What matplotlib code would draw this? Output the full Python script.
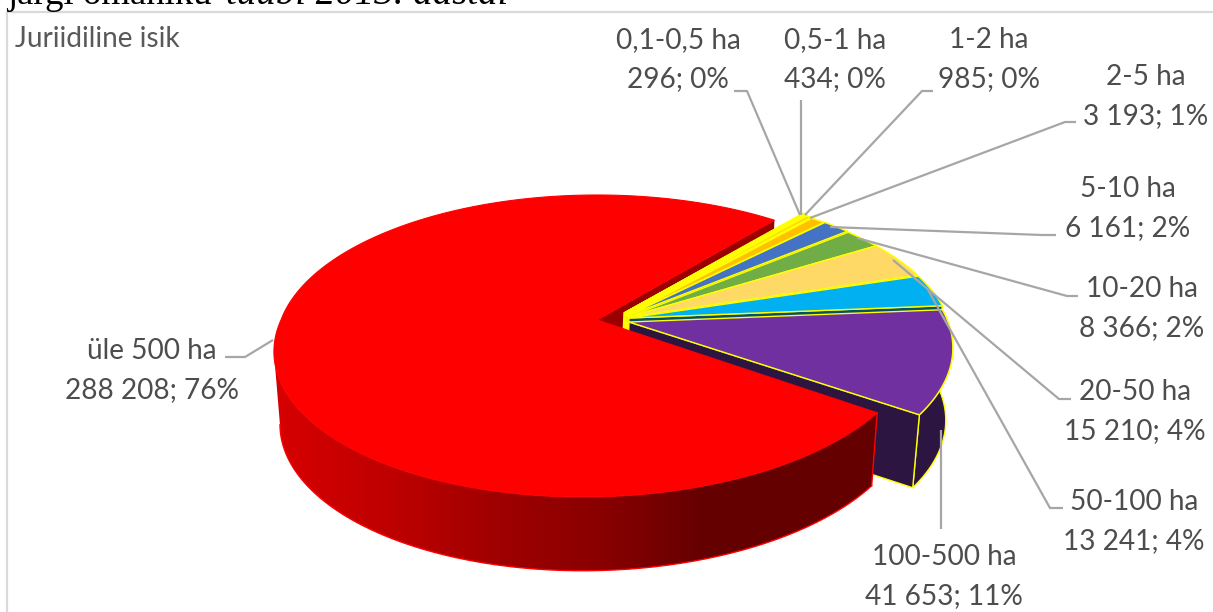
# 3D looking pie, Juriidiline isik
import numpy as np
import matplotlib.pyplot as plt
from matplotlib.colors import LinearSegmentedColormap
from matplotlib.patches import Polygon

# data
sizes = ["0,1-0,5 ha", "0,5-1 ha", "1-2 ha", "2-5 ha", "5-10 ha", "10-20 ha",
         "20-50 ha", "50-100 ha", "100-500 ha", "üle 500 ha"]
areas = [296, 434, 985, 3193, 6161, 8366, 15210, 13241, 41653, 288208]
value_labels = ["296; 0%", "434; 0%", "985; 0%", "3 193; 1%", "6 161; 2%", "8 366; 2%",
                "15 210; 4%", "13 241; 4%", "41 653; 11%", "288 208; 76%"]

# styles
top_colors = ["#FFFF00", "#FFFF00", "#FFD000", "#FFC000", "#4472C4", "#70AD47",
              "#FFD966", "#00B0F0", "#7030A0", "#FF0000"]
wall_colors = ["#FFFF00", "#FFFF00", "#FFFF00", "#7F6000", "#223962", "#385723",
               "#7F6C33", "#04506E", "#2C1540", "#9A0000"]
shifts = [(-4, -5), (-3, -4), (-3, -3), (-2, -2), (-1, -2), (0, -1), (0, -1), (1, 0), (1, 4), (-31, 2)]
label_pos = [(678, 40), (835, 40), (989, 40), (1146, 77), (1128, 189), (1142, 289),
             (1135, 392), (1134, 502), (944, 557), (152, 351)]
leaders = [[(800, 215), (747, 91), (734, 91)],
           [(801, 215), (801, 100)],
           [(805, 215), (922, 91), (933, 91)],
           [(810, 218), (1065, 122), (1076, 122)],
           [(830, 227), (1042, 235), (1056, 235)],
           [(857, 238), (1067, 296), (1078, 296)],
           [(893, 260), (1059, 399), (1071, 399)],
           [(928, 290), (1050, 508), (1063, 508)],
           [(941, 430), (941, 529)],
           [(273, 340), (245, 357), (225, 357)]]

first_angle = 39.5
center_x, center_y = 628, 318
wall_depth = 72
persp = 0.172
grey_text = "#4D4D4D"
line_grey = "#A6A6A6"
label_font = "Lato"
label_size = 20.2


def project(theta, r, cx, cy, bottom=False, shear=0.0, top_a=319, bottom_a=310, bottom_dx=0):
    # pie plane to picture, theta clockwise from north
    x = r * np.sin(np.radians(theta))
    y = r * np.cos(np.radians(theta))
    w = 1 + persp * y
    if bottom:
        up = 148 * y / w
        return cx + bottom_dx + bottom_a * x / w + shear * np.minimum(up, 0), cy + wall_depth - up
    up = 146.5 * y / w
    return cx + top_a * x / w + shear * np.minimum(up, 0), cy - up


fig = plt.figure(figsize=(12.13, 6.12), dpi=100)
ax = fig.add_axes([0, 0, 1, 1])
ax.set_xlim(0, 1213)
ax.set_ylim(612, 0)
ax.axis("off")

# frame and the clipped text above it
ax.plot([7, 7, 1213], [612, 12, 12], color="#D9D9D9", lw=1.6)
ax.text(7, 4, "järgi omaniku", family="Liberation Serif", fontsize=26.5, color="black", va="baseline")
ax.text(226, 4, "tüübi 2013. aastal", family="Liberation Serif", style="italic", fontsize=28,
        color="black", va="baseline")
ax.text(15, 39, "Juriidiline isik", family=label_font, fontsize=label_size, color="#595959", va="center")

angles = first_angle + np.cumsum([0] + areas) / sum(areas) * 360

# far wall of the big slice, sits behind the small ones
red = len(areas) - 1
rx, ry = center_x + shifts[red][0], center_y + shifts[red][1]
x0, y0 = project(angles[-1], 0, rx, ry)
x3, y3 = project(angles[-1], 0, rx, ry, bottom=True)
x4, y4 = project(angles[-1], 1, rx, ry, top_a=316)
x5, y5 = project(angles[-1], 1, rx, ry, bottom=True)
ax.fill([x0, x4, x5, x3], [y0, y4, y5, y3], color=wall_colors[red], lw=0)

# walls of the small slices
for i in range(red):
    cx = center_x + shifts[i][0]
    cy = center_y + shifts[i][1]
    t = np.linspace(angles[i], angles[i + 1], 40)
    tx, ty = project(t, 1, cx, cy)
    bx, by = project(t, 1, cx, cy, bottom=True, bottom_a=315, bottom_dx=-3)
    ax0, ay0 = project(angles[i], 0, cx, cy)
    bx0, by0 = project(angles[i], 0, cx, cy, bottom=True, bottom_a=315, bottom_dx=-3)
    # outer wall
    ax.fill(np.r_[tx, bx[::-1]], np.r_[ty, by[::-1]], facecolor=wall_colors[i], edgecolor="#FFFF00", lw=1)
    # cut face on the clockwise side
    ax.fill([ax0, tx[-1], bx[-1], bx0], [ay0, ty[-1], by[-1], by0],
            facecolor=wall_colors[i], edgecolor="#FFFF00", lw=1)

# tops of the small slices
for i in range(red):
    cx = center_x + shifts[i][0]
    cy = center_y + shifts[i][1]
    t = np.linspace(angles[i], angles[i + 1], 40)
    tx, ty = project(t, 1, cx, cy)
    ax0, ay0 = project(angles[i], 0, cx, cy)
    ax.fill(np.r_[ax0, tx], np.r_[ay0, ty], facecolor=top_colors[i], edgecolor="#FFFF00", lw=1)

# big slice outer wall, shaded from left to right
shade = LinearSegmentedColormap.from_list("shade", [(0, "#D80000"), (0.2, "#BE0000"), (0.37, "#A00000"),
                                                    (0.55, "#880000"), (0.72, "#640000"), (1, "#640000")])
lean = 0.08
t = np.linspace(angles[red], angles[red + 1], 400)
tx, ty = project(t, 1, rx, ry, shear=lean, top_a=316)
bx, by = project(t, 1, rx, ry, bottom=True, shear=lean)
# from the front corner round to the left edge of each rim
top_end = np.argmin(tx)
bot_end = np.argmin(bx)
wall = Polygon(np.c_[np.r_[tx[:top_end + 1], bx[:bot_end + 1][::-1]],
                     np.r_[ty[:top_end + 1], by[:bot_end + 1][::-1]]], transform=ax.transData)
gradient = ax.imshow(np.linspace(0, 1, 600)[None, :], cmap=shade, extent=(268, 880, 580, 340),
                     aspect="auto", zorder=1.5)
gradient.set_clip_path(wall)
ax.set_xlim(0, 1213)
ax.set_ylim(612, 0)
ax.plot(bx[:bot_end + 1], by[:bot_end + 1], color="#FF0000", lw=1, zorder=1.6)
ax.plot([tx[0], bx[0]], [ty[0], by[0]], color="#FF0000", lw=1, zorder=1.6)

# big slice top
ax.fill(np.r_[x0, tx], np.r_[y0, ty], facecolor=top_colors[red], edgecolor=top_colors[red], lw=0.8, zorder=1.7)

# leader lines and labels
for pts in leaders:
    ax.plot([p[0] for p in pts], [p[1] for p in pts], color=line_grey, lw=1.6, solid_capstyle="butt", zorder=1.8)
for name, val, (lx, ly) in zip(sizes, value_labels, label_pos):
    ax.text(lx, ly, name, family=label_font, fontsize=label_size, color=grey_text, ha="center", va="center")
    ax.text(lx, ly + 39, val, family=label_font, fontsize=label_size, color=grey_text, ha="center", va="center")

fig.savefig("out.png", dpi=100)
